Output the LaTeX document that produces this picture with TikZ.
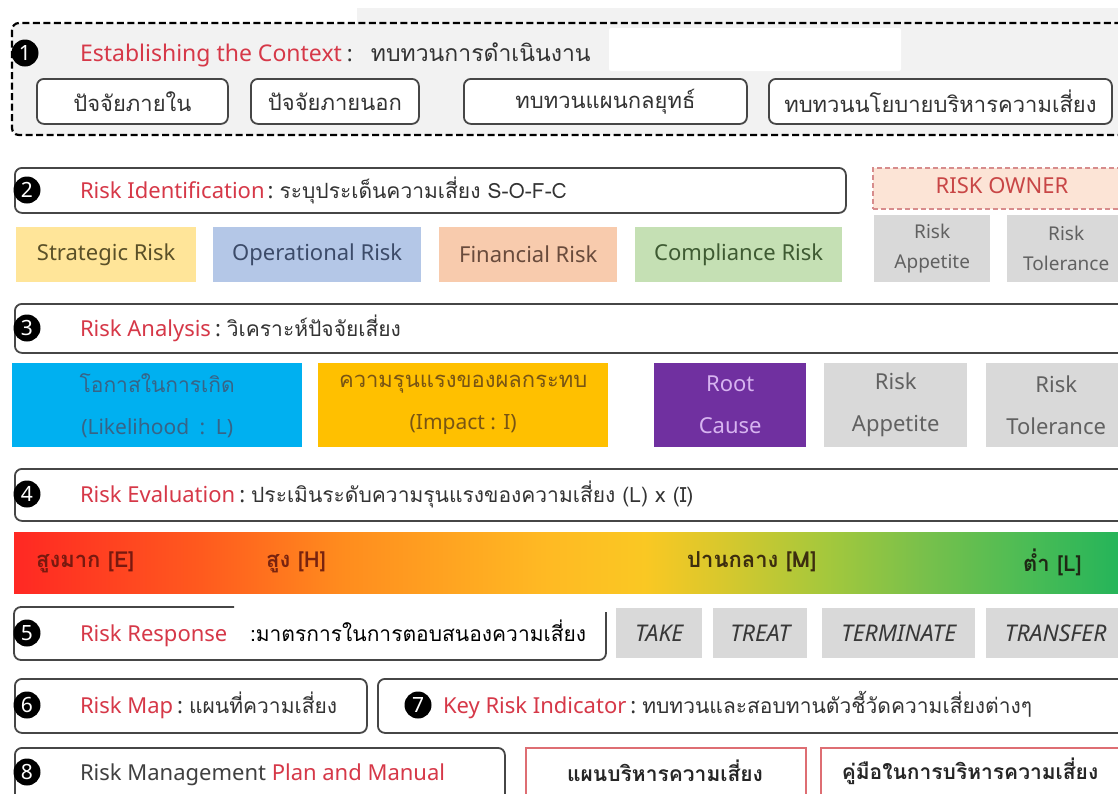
\documentclass[tikz,border=0pt]{standalone}
\usepackage{fontspec}
\setmainfont{Noto Sans}
\newfontfamily\thaifont[Script=Thai]{Loma}
\usetikzlibrary{shadings}
\definecolor{rred}{RGB}{214,56,72}
\definecolor{bggray}{RGB}{242,242,242}
\definecolor{edge}{RGB}{70,70,70}
\definecolor{ystrat}{RGB}{255,229,153}
\definecolor{boper}{RGB}{180,199,231}
\definecolor{ofin}{RGB}{248,203,173}
\definecolor{gcomp}{RGB}{197,224,180}
\definecolor{lgray}{RGB}{217,217,217}
\definecolor{peach}{RGB}{252,228,214}
\definecolor{cyanL}{RGB}{0,176,240}
\definecolor{amberI}{RGB}{255,192,0}
\definecolor{purpR}{RGB}{112,48,160}
\definecolor{gA}{RGB}{255,40,35}
\definecolor{gB}{RGB}{255,90,30}
\definecolor{gC}{RGB}{255,140,30}
\definecolor{gD}{RGB}{255,185,35}
\definecolor{gE}{RGB}{250,200,35}
\definecolor{gF}{RGB}{215,200,45}
\definecolor{gG}{RGB}{165,200,60}
\definecolor{gH}{RGB}{120,192,75}
\definecolor{gI}{RGB}{75,188,85}
\definecolor{gJ}{RGB}{35,180,90}
\pgfdeclarehorizontalshading{riskgrad}{100bp}{color(0bp)=(gA); color(25bp)=(gA); color(33.4bp)=(gB); color(39.8bp)=(gC); color(48.8bp)=(gD); color(53.4bp)=(gE); color(57bp)=(gF); color(61.5bp)=(gG); color(66bp)=(gH); color(70.6bp)=(gI); color(75bp)=(gJ); color(100bp)=(gJ)}
\begin{document}
\begin{tikzpicture}[x=1pt,y=-1pt,
  lbl/.style={inner sep=0pt, outer sep=0pt, anchor=base west, font=\fontsize{22}{26}\selectfont},
  rtext/.style={lbl, text=rred},
  ctext/.style={lbl, text=black!80},
  ttext/.style={lbl, text=black!80, font=\thaifont\fontsize{21}{26}\selectfont},
  numc/.style={circle, fill=black, text=white, inner sep=0pt, minimum size=27pt, font=\bfseries\fontsize{21}{21}\selectfont},
  rowbox/.style={draw=edge, line width=1.8pt, rounded corners=7pt, fill=white, anchor=north west, inner sep=0pt},
  ctxbox/.style={rowbox, font=\thaifont\fontsize{22}{26}\selectfont, text=black!80},
  tile/.style={inner sep=0pt, anchor=north west, align=center, font=\fontsize{22}{42}\selectfont},
  gtile/.style={tile, fill=lgray, text=black!62, font=\fontsize{19}{30}\selectfont},
  rtile/.style={tile, fill=lgray, text=black!78, font=\itshape\fontsize{23}{26}\selectfont},
  gradlbl/.style={inner sep=0pt, anchor=west, font=\thaifont\bfseries\fontsize{22}{26}\selectfont},
  redbox/.style={draw={rgb,255:red,222;green,110;blue,115}, line width=1.5pt, fill=white, anchor=north west, inner sep=0pt},
  redboxtxt/.style={inner sep=0pt, font=\thaifont\bfseries\fontsize{21}{26}\selectfont, text=black!85}
]
\useasboundingbox (0,0) rectangle (1118,793);
\clip (0,0) rectangle (1118,793);
\fill[white] (0,0) rectangle (1118,793);

% ---- 1 Establishing the Context
\fill[bggray] (357,8) rectangle (1118,24);
\draw[draw=black, fill=bggray, line width=2.2pt, dash pattern=on 7pt off 3.5pt, rounded corners=7pt] (12,23) rectangle (1140,135);
\fill[white, rounded corners=2pt] (609,28) rectangle (901,71);
\node[numc] (n1) at (25,53) {1};
\node[rtext, font=\fontsize{23}{26}\selectfont] (t1) at (80,61) {Establishing the Context};
\node[ctext] (t1c) at ([xshift=5pt]t1.base east) {:};
\node[ttext, font=\thaifont\fontsize{23}{26}\selectfont] (t1t) at ([xshift=18pt]t1c.base east) {ทบทวนการดำเนินงาน};
\node[ctxbox, minimum width=191pt, minimum height=45pt] (c1) at (36,78) {ปัจจัยภายใน};
\node[ctxbox, minimum width=168pt, minimum height=45pt] (c2) at (250,78) {ปัจจัยภายนอก};
\node[ctxbox, minimum width=283pt, minimum height=45pt] (c3) at (463,78) {ทบทวนแผนกลยุทธ์};
\node[ctxbox, minimum width=343pt, minimum height=45pt] (c4) at (768,78) {ทบทวนนโยบายบริหารความเสี่ยง};

% ---- 2 Risk Identification
\node[rowbox, minimum width=831pt, minimum height=45pt] (r2) at (14,167) {};
\node[numc] (n2) at (27,190) {2};
\node[rtext] (t2) at (80,198) {Risk Identification};
\node[ctext] (t2c) at ([xshift=3pt]t2.base east) {:};
\node[ttext] (t2t) at ([xshift=6pt]t2c.base east) {ระบุประเด็นความเสี่ยง S-O-F-C};
\node[draw={rgb,255:red,215;green,140;blue,140}, fill=peach, line width=1.5pt, dash pattern=on 5pt off 3pt, anchor=north west, inner sep=0pt, minimum width=260pt, minimum height=41pt] (own) at (872,167) {};
\node[inner sep=0pt, text={rgb,255:red,200;green,70;blue,70}, font=\fontsize{22}{24}\selectfont] (ownt) at (1002,186) {RISK OWNER};
\node[tile, fill=ystrat, text={rgb,255:red,90;green,80;blue,40}, minimum width=180pt, minimum height=55pt] (s1) at (16,227) {Strategic Risk};
\node[tile, fill=boper, text={rgb,255:red,60;green,75;blue,105}, minimum width=208pt, minimum height=55pt] (s2) at (213,227) {Operational Risk};
\node[tile, fill=ofin, text={rgb,255:red,105;green,75;blue,60}, minimum width=178pt, minimum height=55pt] (s3) at (439,227) {Financial Risk};
\node[tile, fill=gcomp, text={rgb,255:red,62;green,90;blue,50}, minimum width=207pt, minimum height=55pt] (s4) at (635,227) {Compliance Risk};
\node[gtile, minimum width=116pt, minimum height=67pt] (a2) at (874,215) {Risk\\Appetite};
\node[gtile, minimum width=118pt, minimum height=67pt] (b2) at (1007,215) {Risk\\Tolerance};

% ---- 3 Risk Analysis
\node[rowbox, minimum width=1130pt, minimum height=49pt] (r3) at (14,303) {};
\node[numc] (n3) at (27,328) {3};
\node[rtext] (t3) at (80,336) {Risk Analysis};
\node[ctext] (t3c) at ([xshift=4pt]t3.base east) {:};
\node[ttext] (t3t) at ([xshift=6pt]t3c.base east) {วิเคราะห์ปัจจัยเสี่ยง};
\node[tile, fill=cyanL, text={rgb,255:red,55;green,100;blue,135}, minimum width=290pt, minimum height=84pt, font=\fontsize{21}{42}\selectfont] (l3) at (12,363) {{\thaifont โอกาสในการเกิด}\\(Likelihood\enspace:\enspace L)};
\node[tile, fill=amberI, text={rgb,255:red,120;green,85;blue,20}, minimum width=290pt, minimum height=84pt, font=\fontsize{21}{42}\selectfont] (i3) at (318,363) {{\thaifont\fontsize{22}{42}\selectfont ความรุนแรงของผลกระทบ}\\(Impact : I)};
\node[tile, fill=purpR, text={rgb,255:red,215;green,180;blue,240}, minimum width=152pt, minimum height=84pt] (rc3) at (654,363) {Root\\Cause};
\node[gtile, minimum width=143pt, minimum height=84pt, font=\fontsize{22}{42}\selectfont] (a3) at (824,363) {Risk\\Appetite};
\node[gtile, minimum width=140pt, minimum height=84pt, font=\fontsize{22}{42}\selectfont] (b3) at (986,363) {Risk\\Tolerance};

% ---- 4 Risk Evaluation
\node[rowbox, minimum width=1130pt, minimum height=52pt] (r4) at (14,468) {};
\node[numc] (n4) at (27,494) {4};
\node[rtext] (t4) at (80,502) {Risk Evaluation};
\node[ctext] (t4c) at ([xshift=4pt]t4.base east) {:};
\node[ttext] (t4t) at ([xshift=6pt]t4c.base east) {ประเมินระดับความรุนแรงของความเสี่ยง (L) x (I)};
\node[shading=riskgrad, anchor=north west, inner sep=0pt, minimum width=1110pt, minimum height=61pt] (grad) at (14,532) {};
\node[gradlbl, text={rgb,255:red,120;green,25;blue,15}] (e4) at (36,562) {สูงมาก [E]};
\node[gradlbl, text={rgb,255:red,120;green,35;blue,15}] (h4) at (266,562) {สูง [H]};
\node[gradlbl, text={rgb,255:red,60;green,45;blue,15}] (m4) at (687,562) {ปานกลาง [M]};
\node[gradlbl, text={rgb,255:red,30;green,40;blue,20}] (lo4) at (1023,562) {ต่ำ [L]};

% ---- 5 Risk Response
\draw[draw=edge, line width=1.8pt, rounded corners=7pt] (234,607) -- (14,607) -- (14,660) -- (606,660) -- (606,612);
\node[numc] (n5) at (27,633) {5};
\node[rtext] (t5) at (80,641) {Risk Response};
\node[lbl, text=black, font=\thaifont\fontsize{21}{26}\selectfont] (t5t) at (250,641) {:มาตรการในการตอบสนองความเสี่ยง};
\node[rtile, minimum width=86pt, minimum height=50pt] (k1) at (616,608) {TAKE};
\node[rtile, minimum width=94pt, minimum height=50pt] (k2) at (713,608) {TREAT};
\node[rtile, minimum width=153pt, minimum height=50pt] (k3) at (822,608) {TERMINATE};
\node[rtile, minimum width=139pt, minimum height=50pt] (k4) at (986,608) {TRANSFER};

% ---- 6 Risk Map, 7 KRI
\node[rowbox, minimum width=352pt, minimum height=54pt] (r6) at (14,678) {};
\node[numc] (n6) at (27,705) {6};
\node[rtext] (t6) at (80,713) {Risk Map};
\node[ctext] (t6c) at ([xshift=4pt]t6.base east) {:};
\node[ttext] (t6t) at ([xshift=6pt]t6c.base east) {แผนที่ความเสี่ยง};
\node[rowbox, minimum width=760pt, minimum height=54pt] (r7) at (377,678) {};
\node[numc] (n7) at (418,705) {7};
\node[rtext] (t7) at (443,713) {Key Risk Indicator};
\node[ctext] (t7c) at ([xshift=4pt]t7.base east) {:};
\node[ttext] (t7t) at ([xshift=6pt]t7c.base east) {ทบทวนและสอบทานตัวชี้วัดความเสี่ยงต่างๆ};

% ---- 8 Plan and Manual
\node[rowbox, minimum width=490pt, minimum height=60pt] (r8) at (14,747) {};
\node[numc] (n8) at (27,772) {8};
\node[lbl, text=black!75] (t8) at (80,780) {Risk Management \textcolor{rred}{Plan and Manual}};
\node[redbox, minimum width=280pt, minimum height=60pt] (p8) at (525,747) {};
\node[redboxtxt] (p8t) at (665,771) {แผนบริหารความเสี่ยง};
\node[redbox, minimum width=320pt, minimum height=60pt] (m8) at (820,747) {};
\node[redboxtxt] (m8t) at (970,771) {คู่มือในการบริหารความเสี่ยง};
\end{tikzpicture}
\end{document}
